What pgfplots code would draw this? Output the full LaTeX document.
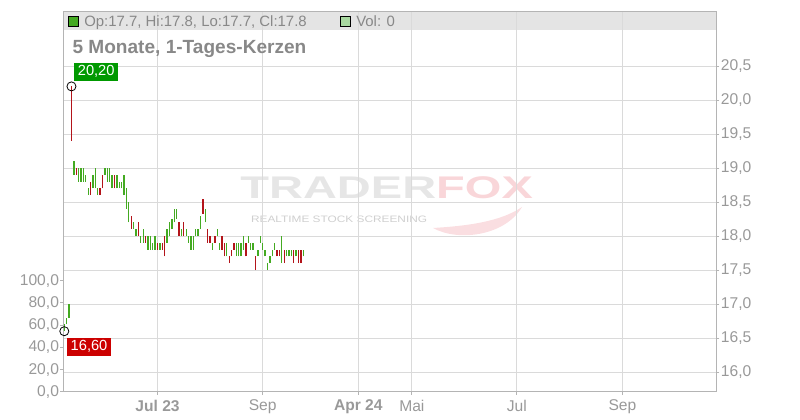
\documentclass[border=0pt]{standalone}
\usepackage{fontspec}
\setmainfont{Liberation Sans}
\usepackage{pgfplots}
\usepackage{pgfplotstable}
\pgfplotsset{compat=1.18}

\definecolor{cgreen}{HTML}{44AA22}
\definecolor{cred}{HTML}{B3141A}
\definecolor{gridc}{HTML}{DADADA}
\definecolor{framec}{HTML}{B4B4B4}
\definecolor{tickc}{HTML}{999999}
\definecolor{txtc}{HTML}{888888}
\definecolor{barc}{HTML}{E4E4E4}
\definecolor{volc}{HTML}{A8D8A0}
\definecolor{labgreen}{HTML}{009900}
\definecolor{labred}{HTML}{CC0000}
\definecolor{wmgray}{HTML}{E6E6E6}
\definecolor{wmpink}{HTML}{F9D6D9}

% day index, low, high
\pgfplotstableread{
x lo hi
0 16.6 16.7
1 16.7 16.8
2 16.8 17.0
4 18.9 19.1
6 18.8 19.0
7 18.8 19.0
8 18.8 19.0
9 18.8 18.9
10 18.6 18.7
12 18.7 18.9
13 18.7 19.0
14 18.6 18.7
17 18.9 19.0
18 18.8 19.0
19 18.8 19.0
20 18.7 18.9
22 18.7 18.9
23 18.7 18.8
24 18.7 18.8
25 18.6 18.9
26 18.4 18.7
27 18.2 18.5
29 18.1 18.2
30 18.0 18.1
32 17.9 18.0
33 17.9 18.1
35 17.8 18.0
36 17.8 18.0
37 17.8 17.9
38 17.8 18.0
40 17.8 17.9
43 17.9 18.1
44 18.0 18.2
45 18.1 18.25
46 18.2 18.4
47 18.25 18.4
49 18.0 18.1
51 18.0 18.1
52 17.9 18.0
53 17.8 18.0
54 17.8 18.0
55 18.0 18.1
56 18.0 18.1
57 18.1 18.3
59 18.2 18.4
62 17.8 17.9
64 18.0 18.1
65 17.8 17.9
68 17.7 17.9
72 17.7 17.9
73 17.7 17.9
74 17.7 17.9
75 17.8 18.0
77 17.9 18.0
78 17.8 17.9
79 17.8 17.9
81 17.7 17.8
82 17.9 18.0
83 17.8 17.9
84 17.7 17.8
85 17.5 17.6
86 17.6 17.7
87 17.7 17.8
88 17.8 17.9
91 17.6 18.0
93 17.7 17.8
94 17.7 17.8
95 17.7 17.8
97 17.7 17.8
100 17.7 17.8
}\upcandles

\pgfplotstableread{
x lo hi
3 19.4 20.2
5 18.9 19.0
11 18.6 18.8
15 18.6 18.7
16 18.7 18.9
21 18.7 18.9
28 18.1 18.3
31 18.0 18.2
34 17.9 18.0
39 17.8 17.9
41 17.8 17.9
42 17.7 18.0
48 18.0 18.2
50 18.0 18.2
58 18.33 18.55
60 17.9 18.1
61 17.9 18.0
63 17.9 18.0
66 17.8 18.0
67 17.7 17.9
69 17.6 17.7
70 17.7 17.8
71 17.8 17.9
76 17.7 17.9
80 17.5 17.7
89 17.7 17.8
90 17.7 17.8
92 17.6 17.8
96 17.6 17.8
98 17.6 17.8
99 17.6 17.8
}\downcandles

\begin{document}
\begin{tikzpicture}[x=0.75pt,y=0.75pt]
\useasboundingbox (0,0) rectangle (800,420);

% legend bar and watermark, behind the grid
\fill[barc] (63,390) rectangle (716.3,408.7);
\fill[wmpink!80] (433,192) .. controls (458,178) and (505,184) .. (522,213)
  .. controls (500,198) and (466,194) .. cycle;
\node[anchor=base west, inner sep=0, xscale=1.5, font=\bfseries\fontsize{23.5}{26}\selectfont]
  at (240,221.7) {\textcolor{wmgray}{TRADER}\textcolor{wmpink}{FOX}};
\node[anchor=base west, inner sep=0, xscale=1.27, text=wmgray!90!black, font=\fontsize{7}{8}\selectfont]
  at (250.7,197.7) {REALTIME STOCK SCREENING};

% volume axis (left)
\begin{axis}[
  at={(47.25pt,21pt)}, anchor=south west,
  scale only axis, width=490pt, height=285.5pt,
  xmin=-0.54, xmax=272.8, ymin=0, ymax=342,
  hide x axis,
  axis y line*=left,
  y axis line style={-, draw=framec, line width=0.75pt},
  ytick={0,20,40,60,80,100},
  tick align=outside, major tick length=2.25pt,
  tick style={draw=framec, line width=0.75pt},
  yticklabel style={font=\fontsize{11.7}{13}\selectfont, text=tickc, inner xsep=0.6pt,
    /pgf/number format/fixed, /pgf/number format/fixed zerofill,
    /pgf/number format/precision=1, /pgf/number format/use comma,
    /pgf/number format/assume math mode=true},
]
\end{axis}

% price axis (right)
\begin{axis}[
  at={(47.25pt,21pt)}, anchor=south west,
  scale only axis, width=490pt, height=285.5pt,
  xmin=-0.54, xmax=272.8, ymin=15.706, ymax=21.304,
  clip=false,
  axis line style={draw=framec, line width=0.75pt},
  xtick={39,83,123,145.4,189.3,233.5},
  xticklabels={\textbf{Jul 23},Sep,\textbf{Apr 24},Mai,Jul,Sep},
  ytick={16,16.5,17,17.5,18,18.5,19,19.5,20,20.5},
  xtick pos=left, ytick pos=right, yticklabel pos=right,
  tick align=outside, major tick length=2.25pt,
  tick style={draw=framec, line width=0.75pt},
  grid=major, grid style={draw=gridc, line width=0.75pt},
  xticklabel style={font=\fontsize{11.7}{13}\selectfont, text=tickc},
  yticklabel style={font=\fontsize{11.7}{13}\selectfont, text=tickc, inner xsep=1pt,
    /pgf/number format/fixed, /pgf/number format/fixed zerofill,
    /pgf/number format/precision=1, /pgf/number format/use comma,
    /pgf/number format/assume math mode=true},
]
\addplot[draw=cgreen, line width=1pt, quiver={u=0, v=\thisrow{hi}-\thisrow{lo}}]
  table[x=x, y=lo] {\upcandles};
\addplot[draw=cred, line width=1pt, quiver={u=0, v=\thisrow{hi}-\thisrow{lo}}]
  table[x=x, y=lo] {\downcandles};
\addplot[only marks, mark=o, mark size=3.4pt, mark options={draw=black, line width=0.6pt}]
  coordinates {(3,20.2) (0,16.6)};
\node[anchor=south west, fill=labgreen, text=white, inner xsep=2.6pt, inner ysep=0pt,
  minimum height=13.7pt, font=\fontsize{11}{13}\selectfont, xshift=2pt, yshift=4pt]
  at (axis cs:3,20.2) {20,20};
\node[anchor=north west, fill=labred, text=white, inner xsep=2.6pt, inner ysep=0pt,
  minimum height=13.7pt, font=\fontsize{11}{13}\selectfont, xshift=2pt, yshift=-4.6pt]
  at (axis cs:0,16.6) {16,60};
\end{axis}

% legend line and title
\draw[black, line width=0.6pt, fill=cgreen] (68.3,393.3) rectangle (78.7,403.3);
\node[anchor=base west, inner sep=0, text=txtc, font=\fontsize{11.2}{13}\selectfont]
  at (84,393.3) {Op:17.7, Hi:17.8, Lo:17.7, Cl:17.8};
\draw[black, line width=0.6pt, fill=volc] (340.7,393.3) rectangle (350.7,403.3);
\node[anchor=base west, inner sep=0, text=txtc, font=\fontsize{11.2}{13}\selectfont]
  at (356,393.3) {Vol: 0};
\node[anchor=base west, inner sep=0, text=txtc, font=\bfseries\fontsize{14.3}{16}\selectfont]
  at (72.3,366) {5 Monate, 1-Tages-Kerzen};
\end{tikzpicture}
\end{document}
